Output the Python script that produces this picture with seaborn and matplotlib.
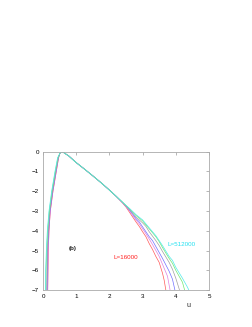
import numpy as np
import pandas as pd
import seaborn as sns
import matplotlib.pyplot as plt

# system sizes and colours (gnuplot-ish)
sizes = ['16000', '32000', '64000', '128000', '256000', '512000']
colors = ['#ff5a5a', '#e080e0', '#7070ff', '#a0a0a0', '#70e870', '#50eaea']

# rising branch, one per size (u, log P)
left_u = {
    '16000':  [0.14, 0.15, 0.16, 0.18, 0.22, 0.30, 0.40, 0.47],
    '32000':  [0.14, 0.15, 0.16, 0.18, 0.22, 0.30, 0.40, 0.47],
    '64000':  [0.12, 0.13, 0.14, 0.17, 0.21, 0.29, 0.39, 0.46],
    '128000': [0.11, 0.12, 0.13, 0.16, 0.20, 0.28, 0.38, 0.46],
    '256000': [0.08, 0.09, 0.11, 0.14, 0.19, 0.27, 0.37, 0.45],
    '512000': [0.07, 0.08, 0.10, 0.13, 0.18, 0.26, 0.36, 0.44],
}
left_v = [-7.2, -6.0, -5.0, -4.0, -3.0, -2.0, -1.0, -0.3]

# common middle part
mid_u = [0.51, 0.55, 0.63, 0.78, 0.9, 1.0, 1.25, 1.5, 1.75, 2.0, 2.2]
mid_v = [-0.08, 0.0, -0.05, -0.22, -0.4, -0.55, -0.88, -1.22, -1.57, -1.94, -2.25]

# tails, where the sizes separate
tail_u = {
    '16000':  [2.4, 2.5, 2.6, 2.7, 2.8, 2.9, 3.0, 3.1, 3.2, 3.3, 3.4, 3.5, 3.6, 3.65, 3.72],
    '32000':  [2.4, 2.5, 2.6, 2.7, 2.8, 2.9, 3.0, 3.1, 3.2, 3.3, 3.4, 3.5, 3.6, 3.75, 3.85],
    '64000':  [2.4, 2.5, 2.6, 2.7, 2.8, 2.9, 3.0, 3.2, 3.3, 3.4, 3.5, 3.6, 3.8, 3.9, 4.0],
    '128000': [2.4, 2.5, 2.6, 2.7, 2.8, 3.0, 3.1, 3.2, 3.4, 3.5, 3.6, 3.8, 3.9, 4.0, 4.15],
    '256000': [2.4, 2.5, 2.6, 2.7, 2.8, 3.0, 3.2, 3.4, 3.5, 3.6, 3.8, 3.9, 4.0, 4.2, 4.3],
    '512000': [2.4, 2.5, 2.6, 2.7, 2.8, 3.0, 3.2, 3.4, 3.6, 3.8, 3.9, 4.0, 4.2, 4.35, 4.45],
}
tail_v = {
    '16000':  [-2.6, -2.8, -3.05, -3.3, -3.55, -3.78, -4.05, -4.3, -4.65, -4.95, -5.3, -5.6, -6.15, -6.5, -7.2],
    '32000':  [-2.59, -2.77, -2.98, -3.22, -3.45, -3.65, -3.9, -4.15, -4.42, -4.7, -5.0, -5.3, -5.7, -6.3, -7.2],
    '64000':  [-2.58, -2.75, -2.94, -3.15, -3.38, -3.55, -3.8, -4.3, -4.5, -4.8, -5.1, -5.4, -6.05, -6.45, -7.2],
    '128000': [-2.57, -2.73, -2.9, -3.1, -3.3, -3.6, -3.78, -4.05, -4.5, -4.75, -5.05, -5.6, -5.95, -6.4, -7.2],
    '256000': [-2.56, -2.72, -2.88, -3.05, -3.22, -3.5, -3.9, -4.3, -4.55, -4.85, -5.4, -5.65, -6.0, -6.6, -7.2],
    '512000': [-2.56, -2.72, -2.86, -3.02, -3.18, -3.45, -3.85, -4.25, -4.75, -5.3, -5.5, -5.85, -6.4, -6.85, -7.2],
}

rows = []
for L in sizes:
    us = left_u[L] + mid_u + tail_u[L]
    vs = left_v + mid_v + tail_v[L]
    for u, v in zip(us, vs):
        rows.append({'L': L, 'u': u, 'logP': v})
df = pd.DataFrame(rows)

sns.set_style('white')
plt.rcParams['font.family'] = ['Liberation Sans', 'DejaVu Sans']

fig = plt.figure(figsize=(2.53, 3.27), dpi=100)
ax = fig.add_axes([0.170, 0.113, 0.656, 0.423])

sns.lineplot(data=df, x='u', y='logP', hue='L', units='L', estimator=None,
             sort=False, palette=dict(zip(sizes, colors)), linewidth=0.5,
             legend=False, ax=ax)

ax.set_xlim(0, 5)
ax.set_ylim(-7, 0)
ax.set_xticks(range(0, 6))
ax.set_yticks(range(-7, 1))
ax.set_xlabel('')
ax.set_ylabel('')
ax.tick_params(direction='in', length=2.5, width=0.5, labelsize=4.5,
               top=True, right=True, colors='#999999', labelcolor='black', pad=3)
for s in ax.spines.values():
    s.set_linewidth(0.6)
    s.set_color('#aaaaaa')

ax.text(0.9, -4.9, '(b)', fontsize=4.5, fontweight='bold', ha='center', va='center')
ax.text(2.5, -5.35, 'L=16000', fontsize=4.5, color='#ff2020', ha='center', va='center')
ax.text(4.16, -4.67, 'L=512000', fontsize=4.5, color='#20e0f0', ha='center', va='center')
fig.text(0.747, 0.067, 'u', fontsize=5, ha='center', va='center')

fig.savefig('out.png', dpi=100)
